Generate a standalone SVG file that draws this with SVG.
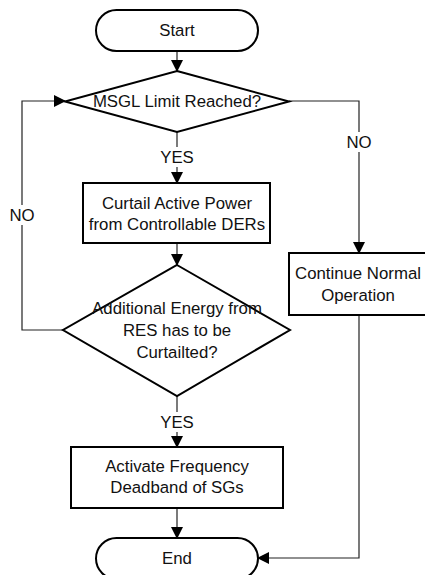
<svg xmlns="http://www.w3.org/2000/svg" width="425" height="575" viewBox="0 0 425 575">
<style>
.shape{fill:#fff;stroke:#000;stroke-width:2}
.conn{fill:none;stroke:#222;stroke-width:1.2}
text{font-family:"Liberation Sans",Arial,sans-serif;font-size:16.8px;fill:#111;text-anchor:middle;dominant-baseline:central}
</style>
<defs>
<marker id="arr" markerWidth="12" markerHeight="12" refX="11" refY="6" orient="auto" markerUnits="userSpaceOnUse">
<path d="M0,0 L12,6 L0,12 Z" fill="#000"/>
</marker>
</defs>
<g id="connectors">
<line class="conn" x1="177" y1="51" x2="177" y2="71" marker-end="url(#arr)"/>
<line class="conn" x1="177" y1="132" x2="177" y2="147"/>
<line class="conn" x1="177" y1="167" x2="177" y2="183" marker-end="url(#arr)"/>
<line class="conn" x1="177" y1="243" x2="177" y2="265" marker-end="url(#arr)"/>
<polyline class="conn" points="63,330 22,330 22,225"/>
<polyline class="conn" points="22,205 22,101 65,101" marker-end="url(#arr)"/>
<line class="conn" x1="177" y1="396" x2="177" y2="412"/>
<line class="conn" x1="177" y1="432" x2="177" y2="447" marker-end="url(#arr)"/>
<line class="conn" x1="177" y1="508" x2="177" y2="538" marker-end="url(#arr)"/>
<polyline class="conn" points="289,101 359,101 359,132"/>
<line class="conn" x1="359" y1="152" x2="359" y2="253" marker-end="url(#arr)"/>
<polyline class="conn" points="359,315 359,558 258,558" marker-end="url(#arr)"/>
<text x="177" y="157">YES</text>
<text x="177" y="422">YES</text>
<text x="359" y="142">NO</text>
<text x="22" y="215">NO</text>
</g>
<g id="start">
<rect class="shape" x="96" y="10" width="162" height="41" rx="20.5"/>
<text x="177" y="30.5">Start</text>
</g>
<g id="d1">
<polygon class="shape" points="177,71 289,101.5 177,132 65,101.5"/>
<text x="177" y="101.5">MSGL Limit Reached?</text>
</g>
<g id="curtail">
<rect class="shape" x="83" y="183" width="187" height="60"/>
<text x="177" y="203">Curtail Active Power</text>
<text x="177" y="224">from Controllable DERs</text>
</g>
<g id="d2">
<polygon class="shape" points="177,265 290,330 177,396 63,330"/>
<text x="177" y="308">Additional Energy from</text>
<text x="177" y="330">RES has to be</text>
<text x="177" y="352">Curtailted?</text>
</g>
<g id="continue">
<rect class="shape" x="289" y="253" width="140" height="62"/>
<text x="358" y="273">Continue Normal</text>
<text x="358" y="295">Operation</text>
</g>
<g id="activate">
<rect class="shape" x="71" y="447" width="212" height="61"/>
<text x="177" y="466">Activate Frequency</text>
<text x="177" y="487">Deadband of SGs</text>
</g>
<g id="end">
<rect class="shape" x="96" y="538" width="162" height="41" rx="20.5"/>
<text x="177" y="558.5">End</text>
</g>
</svg>
